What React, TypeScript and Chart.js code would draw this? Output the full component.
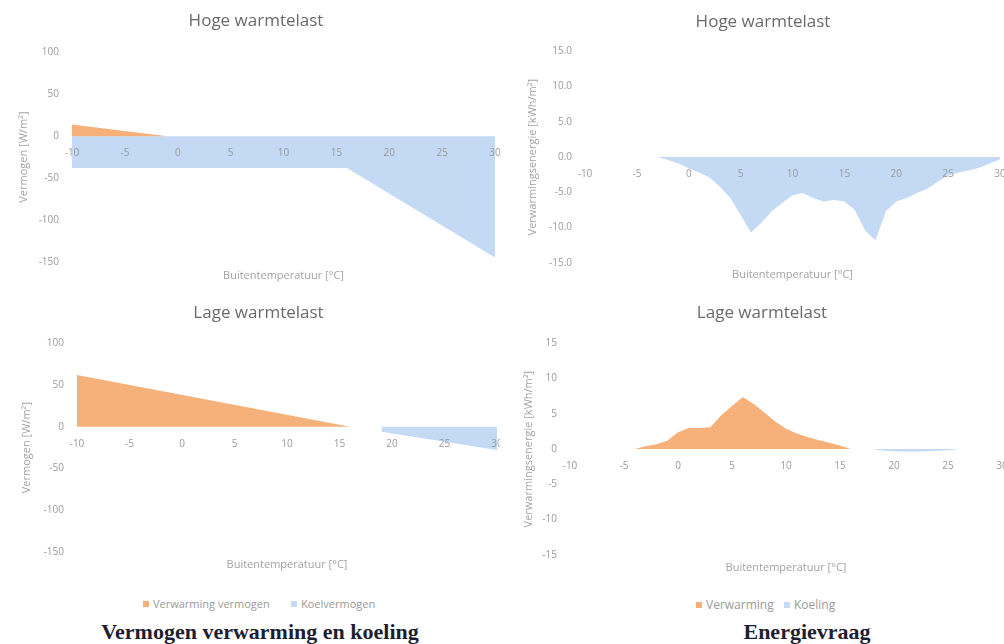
import React, { useEffect, useRef } from 'react';
import { Chart, registerables } from 'chart.js';

Chart.register(...registerables);

// ---------- data ----------
const xTickValues = [-10, -5, 0, 5, 10, 15, 20, 25, 30];

const powerSeriesNames = ['Verwarming vermogen', 'Koelvermogen'];
const energySeriesNames = ['Verwarming', 'Koeling'];

const powerYTicks = [100, 50, 0, -50, -100, -150];
const energyHogeYTicks = [15, 10, 5, 0, -5, -10, -15];
const energyLageYTicks = [15, 10, 5, 0, -5, -10, -15];

// Vermogen - Hoge warmtelast
const hogeVermVerwarmingT = [-10, -1];
const hogeVermVerwarming = [14, 0];
const hogeVermKoelingT = [-10, 16, 30];
const hogeVermKoeling = [-38, -38, -145];

// Vermogen - Lage warmtelast
const lageVermVerwarmingT = [-10, 16];
const lageVermVerwarming = [62, 0];
const lageVermKoelingT = [19, 30];
const lageVermKoeling = [-6, -28];

// Energievraag (per graad buitentemperatuur)
const energyTemps = [
  -10, -9, -8, -7, -6, -5, -4, -3, -2, -1, 0, 1, 2, 3, 4, 5, 6, 7, 8, 9, 10,
  11, 12, 13, 14, 15, 16, 17, 18, 19, 20, 21, 22, 23, 24, 25, 26, 27, 28, 29, 30,
];
const hogeEnergieVerwarming = [
  0, 0, 0, 0, 0, 0, 0, 0, 0, 0, 0, 0, 0, 0, 0, 0, 0, 0, 0, 0, 0,
  0, 0, 0, 0, 0, 0, 0, 0, 0, 0, 0, 0, 0, 0, 0, 0, 0, 0, 0, 0,
];
const hogeEnergieKoeling = [
  0, 0, 0, 0, 0, 0, 0, 0, -0.4, -0.9, -1.6, -2.2, -2.9, -4.2, -5.8, -8.2, -10.7, -9.3, -7.7, -6.5, -5.4,
  -5.1, -5.8, -6.3, -6.1, -6.3, -7.5, -10.4, -11.8, -7.7, -6.3, -5.8, -5.1, -4.5, -3.5, -2.6, -2.2, -1.9, -1.5, -0.9, -0.3,
];
const lageEnergieVerwarming = [
  0, 0, 0, 0, 0, 0, 0, 0.4, 0.7, 1.2, 2.4, 3.0, 3.0, 3.1, 4.8, 6.1, 7.4, 6.4, 5.2, 3.9, 2.9,
  2.2, 1.7, 1.3, 0.9, 0.5, 0, 0, 0, 0, 0, 0, 0, 0, 0, 0, 0, 0, 0, 0, 0,
];
const lageEnergieKoeling = [
  0, 0, 0, 0, 0, 0, 0, 0, 0, 0, 0, 0, 0, 0, 0, 0, 0, 0, 0, 0, 0,
  0, 0, 0, 0, 0, 0, 0, 0, -0.2, -0.3, -0.35, -0.35, -0.3, -0.25, -0.15, 0, 0, 0, 0, 0,
];

// ---------- styling ----------
const FONT = "'Open Sans', sans-serif";
const ORANGE = '#F6B17B';
const BLUE = '#C4D9F4';
const TITLE_COLOR = '#6a6a6a';
const TICK_COLOR = '#9a9a9a';
const AXIS_TITLE_COLOR = '#a3a3a3';

function toPoints(ts: number[], vs: number[]) {
  return ts.map((t, i) => ({ x: t, y: vs[i] }));
}

type ChartOpts = {
  title: string;
  yTitle: string;
  yTicks: number[];
  decimals: number;
  heat: { x: number; y: number }[];
  cool: { x: number; y: number }[];
  names: string[];
  padLeft: number;
  padRight: number;
  yWidth: number;
  titlePad: { top: number; bottom: number };
  subPad: { top: number; bottom: number };
};

function buildConfig(o: ChartOpts): any {
  const yMin = Math.min(...o.yTicks);
  const yMax = Math.max(...o.yTicks);
  const yStep = Math.abs(o.yTicks[0] - o.yTicks[1]);
  const xMin = Math.min(...xTickValues);
  const xMax = Math.max(...xTickValues);
  const xStep = xTickValues[1] - xTickValues[0];
  const area = (label: string, data: any[], color: string) => ({
    label,
    data,
    fill: 'origin',
    backgroundColor: color,
    borderColor: 'rgba(0,0,0,0)',
    borderWidth: 0,
    pointRadius: 0,
    pointHoverRadius: 0,
    tension: 0,
  });
  return {
    type: 'line',
    data: {
      datasets: [area(o.names[0], o.heat, ORANGE), area(o.names[1], o.cool, BLUE)],
    },
    options: {
      responsive: false,
      animation: false,
      devicePixelRatio: 1,
      events: [],
      layout: { padding: { left: o.padLeft, right: o.padRight, top: 0, bottom: 0 } },
      plugins: {
        legend: { display: false },
        tooltip: { enabled: false },
        title: {
          display: true,
          text: o.title,
          color: TITLE_COLOR,
          font: { family: FONT, size: 17, weight: 'normal' },
          padding: o.titlePad,
        },
        subtitle: {
          display: true,
          position: 'bottom',
          fullSize: false,
          text: 'Buitentemperatuur [°C]',
          color: AXIS_TITLE_COLOR,
          font: { family: FONT, size: 11, weight: 'normal' },
          padding: o.subPad,
        },
      },
      scales: {
        x: {
          type: 'linear',
          position: { y: 0 },
          min: xMin,
          max: xMax,
          ticks: {
            stepSize: xStep,
            autoSkip: false,
            maxRotation: 0,
            padding: 0,
            color: TICK_COLOR,
            font: { family: FONT, size: 10 },
            z: 1,
          },
          grid: { display: false, drawTicks: true, tickLength: 11 },
          border: { display: false },
          afterFit: (s: any) => {
            s.paddingRight = 0;
            s.paddingLeft = 0;
          },
        },
        y: {
          type: 'linear',
          min: yMin,
          max: yMax,
          ticks: {
            stepSize: yStep,
            padding: 13,
            color: TICK_COLOR,
            font: { family: FONT, size: 10 },
            callback: (v: any) => Number(v).toFixed(o.decimals),
          },
          grid: { display: false, drawTicks: false },
          border: { display: false },
          title: {
            display: true,
            text: o.yTitle,
            color: AXIS_TITLE_COLOR,
            font: { family: FONT, size: 11 },
            padding: 0,
          },
          afterFit: (s: any) => {
            s.width = o.yWidth;
          },
        },
      },
    },
  };
}

function ChartBox(props: { left: number; top: number; width: number; height: number; opts: ChartOpts }) {
  const ref = useRef<HTMLCanvasElement>(null);
  useEffect(() => {
    if (!ref.current) return;
    const chart = new Chart(ref.current, buildConfig(props.opts));
    return () => chart.destroy();
  }, []);
  return (
    <canvas
      ref={ref}
      width={props.width}
      height={props.height}
      style={{ position: 'absolute', left: props.left, top: props.top, width: props.width, height: props.height }}
    />
  );
}

function LegendItem(props: { left: number; top: number; color: string; text: string; size: number }) {
  return (
    <div
      style={{
        position: 'absolute',
        left: props.left,
        top: props.top,
        display: 'flex',
        alignItems: 'center',
        fontFamily: FONT,
        fontSize: props.size,
        color: TICK_COLOR,
        whiteSpace: 'nowrap',
        lineHeight: '14px',
      }}
    >
      <span style={{ display: 'inline-block', width: 6, height: 6, background: props.color, marginRight: 4 }} />
      <span>{props.text}</span>
    </div>
  );
}

export default function App() {
  const tl: ChartOpts = {
    title: 'Hoge warmtelast',
    yTitle: 'Vermogen [W/m²]',
    yTicks: powerYTicks,
    decimals: 0,
    heat: toPoints(hogeVermVerwarmingT, hogeVermVerwarming),
    cool: toPoints(hogeVermKoelingT, hogeVermKoeling),
    names: powerSeriesNames,
    padLeft: 17,
    padRight: 5,
    yWidth: 55,
    titlePad: { top: 11, bottom: 21 },
    subPad: { top: 7, bottom: 8 },
  };
  const tr: ChartOpts = {
    title: 'Hoge warmtelast',
    yTitle: 'Verwarmingsenergie [kWh/m²]',
    yTicks: energyHogeYTicks,
    decimals: 1,
    heat: toPoints(energyTemps, hogeEnergieVerwarming),
    cool: toPoints(energyTemps, hogeEnergieKoeling),
    names: energySeriesNames,
    padLeft: 26,
    padRight: 4,
    yWidth: 59,
    titlePad: { top: 12, bottom: 19 },
    subPad: { top: 5, bottom: 9 },
  };
  const bl: ChartOpts = {
    title: 'Lage warmtelast',
    yTitle: 'Vermogen [W/m²]',
    yTicks: powerYTicks,
    decimals: 0,
    heat: toPoints(lageVermVerwarmingT, lageVermVerwarming),
    cool: toPoints(lageVermKoelingT, lageVermKoeling),
    names: powerSeriesNames,
    padLeft: 20,
    padRight: 3,
    yWidth: 57,
    titlePad: { top: 13, bottom: 20 },
    subPad: { top: 6, bottom: 9 },
  };
  const br: ChartOpts = {
    title: 'Lage warmtelast',
    yTitle: 'Verwarmingsenergie [kWh/m²]',
    yTicks: energyLageYTicks,
    decimals: 0,
    heat: toPoints(energyTemps, lageEnergieVerwarming),
    cool: toPoints(energyTemps, lageEnergieKoeling),
    names: energySeriesNames,
    padLeft: 22,
    padRight: 2,
    yWidth: 48,
    titlePad: { top: 13, bottom: 20 },
    subPad: { top: 6, bottom: 6 },
  };

  const captionStyle: React.CSSProperties = {
    position: 'absolute',
    top: 619,
    width: 400,
    textAlign: 'center',
    fontFamily: "'Liberation Serif', 'Times New Roman', serif",
    fontWeight: 'bold',
    fontSize: 22,
    lineHeight: '26px',
    color: '#1e1e30',
    whiteSpace: 'nowrap',
  };

  return (
    <div style={{ position: 'absolute', left: 0, top: 0, width: 1004, height: 644, background: '#ffffff', overflow: 'hidden' }}>
      <ChartBox left={0} top={0} width={500} height={290} opts={tl} />
      <ChartBox left={500} top={0} width={504} height={290} opts={tr} />
      <ChartBox left={0} top={290} width={500} height={290} opts={bl} />
      <ChartBox left={500} top={290} width={504} height={290} opts={br} />

      <LegendItem left={143} top={597} color={ORANGE} text={powerSeriesNames[0]} size={11} />
      <LegendItem left={291} top={597} color={BLUE} text={powerSeriesNames[1]} size={11} />
      <LegendItem left={696} top={598} color={ORANGE} text={energySeriesNames[0]} size={12} />
      <LegendItem left={784} top={598} color={BLUE} text={energySeriesNames[1]} size={12} />

      <div style={{ ...captionStyle, left: 60 }}>Vermogen verwarming en koeling</div>
      <div style={{ ...captionStyle, left: 607 }}>Energievraag</div>
    </div>
  );
}
